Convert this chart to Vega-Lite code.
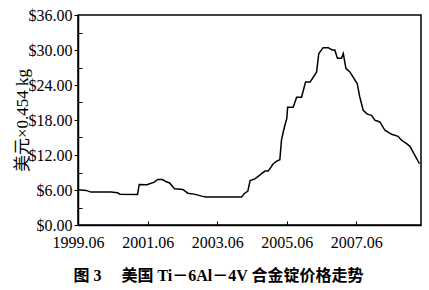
{
  "$schema": "https://vega.github.io/schema/vega-lite/v6.json",
  "autosize": "none",
  "padding": {"left": 78, "top": 15, "right": 8, "bottom": 65},
  "width": 343,
  "height": 210,
  "background": "white",
  "config": {
    "font": "Liberation Serif",
    "view": {"stroke": "black", "strokeWidth": 1.5}
  },
  "title": {
    "text": "图 3　 美国 Ti－6Al－4V 合金锭价格走势",
    "orient": "bottom",
    "anchor": "middle",
    "dx": -31,
    "offset": 18,
    "font": "Liberation Serif, Noto Sans CJK SC",
    "fontSize": 16,
    "fontWeight": "bold",
    "color": "black"
  },
  "data": {
    "values": [
      {"date": "1999-06-01", "price": 6.05},
      {"date": "1999-08-25", "price": 5.93},
      {"date": "1999-10-15", "price": 5.64},
      {"date": "2000-05-12", "price": 5.64},
      {"date": "2000-07-20", "price": 5.53},
      {"date": "2000-08-15", "price": 5.28},
      {"date": "2001-02-15", "price": 5.24},
      {"date": "2001-03-05", "price": 6.95},
      {"date": "2001-05-25", "price": 6.9},
      {"date": "2001-08-10", "price": 7.35},
      {"date": "2001-09-15", "price": 7.8},
      {"date": "2001-11-03", "price": 7.8},
      {"date": "2001-12-10", "price": 7.45},
      {"date": "2002-01-18", "price": 7.2},
      {"date": "2002-03-10", "price": 6.2},
      {"date": "2002-06-06", "price": 6.1},
      {"date": "2002-07-28", "price": 5.45},
      {"date": "2002-10-15", "price": 5.25},
      {"date": "2002-12-20", "price": 4.95},
      {"date": "2003-02-03", "price": 4.8},
      {"date": "2004-02-12", "price": 4.78},
      {"date": "2004-03-10", "price": 5.36},
      {"date": "2004-04-18", "price": 5.8},
      {"date": "2004-05-12", "price": 7.6},
      {"date": "2004-07-01", "price": 7.9},
      {"date": "2004-09-10", "price": 8.8},
      {"date": "2004-10-15", "price": 9.24},
      {"date": "2004-11-18", "price": 9.24},
      {"date": "2005-01-10", "price": 10.5},
      {"date": "2005-02-15", "price": 10.96},
      {"date": "2005-03-20", "price": 11.2},
      {"date": "2005-04-06", "price": 14.5},
      {"date": "2005-04-24", "price": 15.9},
      {"date": "2005-05-12", "price": 17.1},
      {"date": "2005-06-01", "price": 18.25},
      {"date": "2005-06-10", "price": 20.2},
      {"date": "2005-08-07", "price": 20.2},
      {"date": "2005-09-12", "price": 21.9},
      {"date": "2005-11-03", "price": 21.9},
      {"date": "2005-12-15", "price": 24.5},
      {"date": "2006-02-01", "price": 24.5},
      {"date": "2006-04-10", "price": 26.25},
      {"date": "2006-05-03", "price": 29.4},
      {"date": "2006-06-18", "price": 30.4},
      {"date": "2006-08-10", "price": 30.4},
      {"date": "2006-09-21", "price": 30.0},
      {"date": "2006-10-18", "price": 30.0},
      {"date": "2006-11-15", "price": 28.6},
      {"date": "2006-12-27", "price": 28.6},
      {"date": "2007-01-15", "price": 29.4},
      {"date": "2007-02-12", "price": 26.84},
      {"date": "2007-03-25", "price": 26.25},
      {"date": "2007-06-10", "price": 24.26},
      {"date": "2007-07-07", "price": 21.96},
      {"date": "2007-08-12", "price": 19.67},
      {"date": "2007-09-24", "price": 19.0},
      {"date": "2007-11-08", "price": 18.8},
      {"date": "2007-12-12", "price": 17.96},
      {"date": "2008-02-03", "price": 17.66},
      {"date": "2008-03-27", "price": 16.24},
      {"date": "2008-06-06", "price": 15.55},
      {"date": "2008-08-12", "price": 15.2},
      {"date": "2008-09-18", "price": 14.52},
      {"date": "2008-11-10", "price": 13.95},
      {"date": "2008-12-15", "price": 13.49},
      {"date": "2009-03-25", "price": 10.5}
    ]
  },
  "layer": [
    {
      "mark": {"type": "line", "color": "black", "strokeWidth": 1.5, "interpolate": "linear"},
      "encoding": {
        "x": {
          "field": "date",
          "type": "temporal",
          "scale": {"type": "utc", "domain": [{"year": 1999, "month": 6, "date": 1, "utc": true}, {"year": 2009, "month": 4, "date": 10, "utc": true}], "nice": false},
          "axis": {
            "title": null,
            "grid": false,
            "domainColor": "black",
            "domainWidth": 1.5,
            "tickColor": "black",
            "tickSize": -4,
            "labelPadding": 13,
            "labelFont": "Liberation Serif",
            "labelFontSize": 16,
            "labelColor": "black",
            "labelFlush": false,
            "labelOverlap": false,
            "values": [
              {"year": 1999, "month": 6, "date": 1, "utc": true},
              {"year": 1999, "month": 12, "date": 1, "utc": true},
              {"year": 2000, "month": 6, "date": 1, "utc": true},
              {"year": 2000, "month": 12, "date": 1, "utc": true},
              {"year": 2001, "month": 6, "date": 1, "utc": true},
              {"year": 2001, "month": 12, "date": 1, "utc": true},
              {"year": 2002, "month": 6, "date": 1, "utc": true},
              {"year": 2002, "month": 12, "date": 1, "utc": true},
              {"year": 2003, "month": 6, "date": 1, "utc": true},
              {"year": 2003, "month": 12, "date": 1, "utc": true},
              {"year": 2004, "month": 6, "date": 1, "utc": true},
              {"year": 2004, "month": 12, "date": 1, "utc": true},
              {"year": 2005, "month": 6, "date": 1, "utc": true},
              {"year": 2005, "month": 12, "date": 1, "utc": true},
              {"year": 2006, "month": 6, "date": 1, "utc": true},
              {"year": 2006, "month": 12, "date": 1, "utc": true},
              {"year": 2007, "month": 6, "date": 1, "utc": true},
              {"year": 2007, "month": 12, "date": 1, "utc": true},
              {"year": 2008, "month": 6, "date": 1, "utc": true},
              {"year": 2008, "month": 12, "date": 1, "utc": true}
            ],
            "labelExpr": "(utcFormat(datum.value, '%m') == '06' && (+utcFormat(datum.value, '%Y')) % 2 == 1) ? utcFormat(datum.value, '%Y.%m') : ''"
          }
        },
        "y": {
          "field": "price",
          "type": "quantitative",
          "scale": {"domain": [0, 36], "nice": false},
          "axis": {
            "title": "美元×0.454 kg",
            "titleFont": "Liberation Serif, Noto Sans CJK SC",
            "titleFontSize": 17,
            "titleFontWeight": "normal",
            "titleColor": "black",
            "titlePadding": -3,
            "grid": false,
            "domainColor": "black",
            "domainWidth": 1.5,
            "tickColor": "black",
            "tickSize": 4,
            "labelPadding": 2,
            "labelFont": "Liberation Serif",
            "labelFontSize": 16,
            "labelColor": "black",
            "labelFlush": false,
            "values": [0, 6, 12, 18, 24, 30, 36],
            "format": "$.2f"
          }
        }
      }
    },
    {
      "mark": {"type": "line", "strokeOpacity": 0},
      "encoding": {
        "x": {"field": "date", "type": "temporal"},
        "y": {
          "field": "price",
          "type": "quantitative",
          "axis": {
            "orient": "left",
            "title": null,
            "grid": false,
            "domain": false,
            "labels": false,
            "tickColor": "black",
            "tickSize": -4,
            "values": [3, 9, 15, 21, 27, 33]
          }
        }
      }
    }
  ],
  "resolve": {"axis": {"y": "independent"}}
}
